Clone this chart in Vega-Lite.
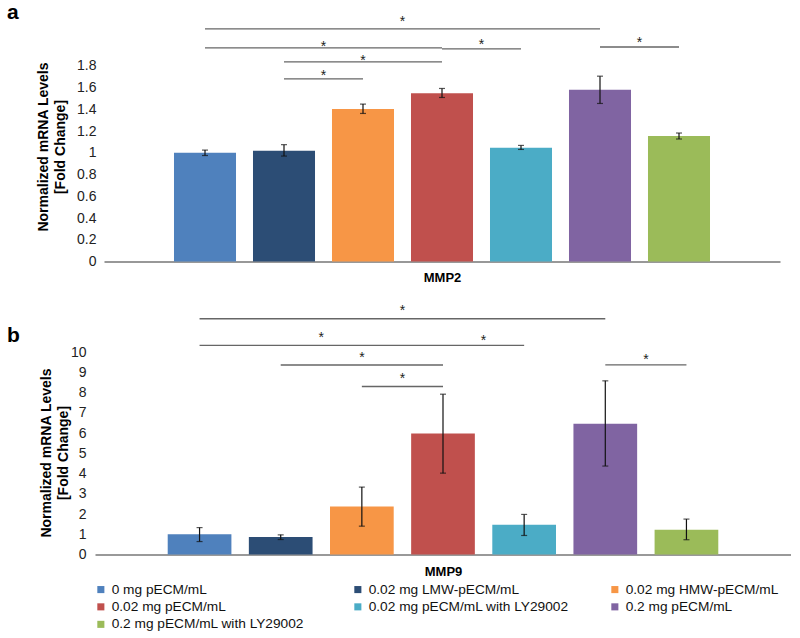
{
  "$schema": "https://vega.github.io/schema/vega-lite/v6.json",
  "padding": {"left": 7, "top": 1.5, "right": 0, "bottom": 0},
  "background": "white",
  "config": {
    "font": "Liberation Sans",
    "view": {"stroke": null},
    "axis": {"grid": false},
    "axisY": {"domain": false, "ticks": false, "labelOverlap": false, "labelFontSize": 14, "labelColor": "#222", "titleFontSize": 14, "titleFontWeight": "bold", "titleColor": "#000", "titleLineHeight": 17, "titleLimit": 500},
    "axisX": {"labels": false, "ticks": false, "domain": true, "titleFontSize": 13, "titleFontWeight": "bold", "titleColor": "#000"}
  },
  "datasets": {
    "bars2": [
      {"g": "0 mg pECM/mL", "v": 1.0, "lo": 0.975, "hi": 1.025},
      {"g": "0.02 mg LMW-pECM/mL", "v": 1.02, "lo": 0.97, "hi": 1.075},
      {"g": "0.02 mg HMW-pECM/mL", "v": 1.402, "lo": 1.362, "hi": 1.448},
      {"g": "0.02 mg pECM/mL", "v": 1.549, "lo": 1.509, "hi": 1.592},
      {"g": "0.02 mg pECM/mL with LY29002", "v": 1.047, "lo": 1.031, "hi": 1.068},
      {"g": "0.2 mg pECM/mL", "v": 1.579, "lo": 1.454, "hi": 1.705},
      {"g": "0.2 mg pECM/mL with LY29002", "v": 1.154, "lo": 1.127, "hi": 1.182}
    ],
    "bars9": [
      {"g": "0 mg pECM/mL", "v": 1.0, "lo": 0.64, "hi": 1.33},
      {"g": "0.02 mg LMW-pECM/mL", "v": 0.86, "lo": 0.74, "hi": 0.97},
      {"g": "0.02 mg HMW-pECM/mL", "v": 2.37, "lo": 1.4, "hi": 3.33},
      {"g": "0.02 mg pECM/mL", "v": 5.98, "lo": 4.02, "hi": 7.92},
      {"g": "0.02 mg pECM/mL with LY29002", "v": 1.47, "lo": 0.94, "hi": 1.98},
      {"g": "0.2 mg pECM/mL", "v": 6.46, "lo": 4.37, "hi": 8.58},
      {"g": "0.2 mg pECM/mL with LY29002", "v": 1.22, "lo": 0.73, "hi": 1.75}
    ],
    "sig2": [
      {"from": "0 mg pECM/mL", "to": "0.2 mg pECM/mL", "y": 2.14},
      {"from": "0 mg pECM/mL", "to": "0.02 mg pECM/mL", "y": 1.965},
      {"from": "0.02 mg pECM/mL", "to": "0.02 mg pECM/mL with LY29002", "y": 1.956},
      {"from": "0.02 mg LMW-pECM/mL", "to": "0.02 mg pECM/mL", "y": 1.837},
      {"from": "0.02 mg LMW-pECM/mL", "to": "0.02 mg HMW-pECM/mL", "y": 1.68},
      {"from": "0.2 mg pECM/mL", "to": "0.2 mg pECM/mL with LY29002", "y": 1.974}
    ],
    "stars2": [
      {"at": "0.02 mg HMW-pECM/mL", "pos": "between", "y": 2.167},
      {"at": "0.02 mg LMW-pECM/mL", "pos": "between", "y": 1.938},
      {"at": "0.02 mg pECM/mL", "pos": "between", "y": 1.956},
      {"at": "0.02 mg HMW-pECM/mL", "pos": "center", "y": 1.809},
      {"at": "0.02 mg LMW-pECM/mL", "pos": "between", "y": 1.671},
      {"at": "0.2 mg pECM/mL", "pos": "between", "y": 1.974}
    ],
    "sig9": [
      {"from": "0 mg pECM/mL", "to": "0.2 mg pECM/mL", "y": 11.65},
      {"from": "0 mg pECM/mL", "to": "0.02 mg pECM/mL", "y": 10.33},
      {"from": "0.02 mg pECM/mL", "to": "0.02 mg pECM/mL with LY29002", "y": 10.33},
      {"from": "0.02 mg LMW-pECM/mL", "to": "0.02 mg pECM/mL", "y": 9.36},
      {"from": "0.02 mg HMW-pECM/mL", "to": "0.02 mg pECM/mL", "y": 8.3},
      {"from": "0.2 mg pECM/mL", "to": "0.2 mg pECM/mL with LY29002", "y": 9.37}
    ],
    "stars9": [
      {"at": "0.02 mg HMW-pECM/mL", "pos": "between", "y": 11.84},
      {"at": "0.02 mg LMW-pECM/mL", "pos": "between", "y": 10.51},
      {"at": "0.02 mg pECM/mL", "pos": "between", "y": 10.36},
      {"at": "0.02 mg HMW-pECM/mL", "pos": "center", "y": 9.52},
      {"at": "0.02 mg HMW-pECM/mL", "pos": "between", "y": 8.49},
      {"at": "0.2 mg pECM/mL", "pos": "between", "y": 9.42}
    ]
  },
  "columns": 1,
  "concat": [
    {
      "title": {"text": "a", "anchor": "start", "frame": "group", "orient": "top", "fontSize": 21, "fontWeight": "bold", "color": "#000", "dx": -88, "offset": -11},
      "width": 685,
      "height": 250,
      "encoding": {
        "x": {"type": "nominal", "scale": {"domain": ["0 mg pECM/mL", "0.02 mg LMW-pECM/mL", "0.02 mg HMW-pECM/mL", "0.02 mg pECM/mL", "0.02 mg pECM/mL with LY29002", "0.2 mg pECM/mL", "0.2 mg pECM/mL with LY29002"], "range": [9, 685], "paddingInner": 0.215, "paddingOuter": 0.886},
          "axis": {"title": "MMP2", "domainColor": "#333", "domainWidth": 1.2, "titlePadding": 10}},
        "y": {"type": "quantitative", "scale": {"domain": [0, 2.3], "nice": false},
          "axis": {"title": ["Normalized mRNA Levels", "[Fold Change]"], "values": [0, 0.2, 0.4, 0.6, 0.8, 1, 1.2, 1.4, 1.6, 1.8], "format": "~g", "labelPadding": -1, "titlePadding": 9, "titleY": 135, "titleFontSize": 14, "titleLimit": 500}}
      },
      "layer": [
        {
          "data": {"name": "bars2"},
          "mark": {"type": "bar"},
          "encoding": {
            "x": {"field": "g", "type": "nominal", "sort": null},
            "y": {"field": "v", "type": "quantitative", "stack": null},
            "color": {"field": "g", "type": "nominal", "sort": null,
              "scale": {"domain": ["0 mg pECM/mL", "0.02 mg LMW-pECM/mL", "0.02 mg HMW-pECM/mL", "0.02 mg pECM/mL", "0.02 mg pECM/mL with LY29002", "0.2 mg pECM/mL", "0.2 mg pECM/mL with LY29002"], "range": ["#4F81BD", "#2C4D75", "#F79646", "#C0504D", "#4BACC6", "#8064A2", "#9BBB59"]},
              "legend": {"title": null, "orient": "none", "direction": "horizontal", "legendX": -1, "legendY": 571, "columns": 3, "gridAlign": "all", "columnPadding": 39, "rowPadding": 2.5, "symbolType": "square", "symbolSize": 50, "symbolStrokeWidth": 0, "labelFontSize": 13.7, "labelColor": "#111", "labelOffset": 4, "labelLimit": 300}}
          }
        },
        {
          "data": {"name": "bars2"},
          "mark": {"type": "rule", "color": "#111", "strokeWidth": 1.2},
          "encoding": {"x": {"field": "g"}, "y": {"field": "lo"}, "y2": {"field": "hi"}}
        },
        {
          "data": {"name": "bars2"},
          "mark": {"type": "tick", "color": "#111", "size": 6, "thickness": 1.2},
          "encoding": {"x": {"field": "g"}, "y": {"field": "lo"}}
        },
        {
          "data": {"name": "bars2"},
          "mark": {"type": "tick", "color": "#111", "size": 6, "thickness": 1.2},
          "encoding": {"x": {"field": "g"}, "y": {"field": "hi"}}
        },
        {
          "data": {"name": "sig2"},
          "mark": {"type": "rule", "color": "#666", "strokeWidth": 1.4},
          "encoding": {"x": {"field": "from", "bandPosition": 0.5}, "x2": {"field": "to", "bandPosition": 0.5}, "y": {"field": "y"}}
        },
        {
          "data": {"name": "stars2"},
          "transform": [{"filter": "datum.pos === 'center'"}],
          "mark": {"type": "text", "text": "*", "fontSize": 14, "color": "#222", "baseline": "alphabetic"},
          "encoding": {"x": {"field": "at", "bandPosition": 0.5}, "y": {"field": "y"}}
        },
        {
          "data": {"name": "stars2"},
          "transform": [{"filter": "datum.pos === 'between'"}],
          "mark": {"type": "text", "text": "*", "fontSize": 14, "color": "#222", "baseline": "alphabetic"},
          "encoding": {"x": {"field": "at", "bandPosition": 1.137}, "y": {"field": "y"}}
        }
      ]
    },
    {
      "title": {"text": "b", "anchor": "start", "frame": "group", "orient": "top", "fontSize": 21, "fontWeight": "bold", "color": "#000", "dx": -88, "offset": -44},
      "width": 696,
      "height": 253,
      "encoding": {
        "x": {"type": "nominal", "scale": {"domain": ["0 mg pECM/mL", "0.02 mg LMW-pECM/mL", "0.02 mg HMW-pECM/mL", "0.02 mg pECM/mL", "0.02 mg pECM/mL with LY29002", "0.2 mg pECM/mL", "0.2 mg pECM/mL with LY29002"], "paddingInner": 0.215, "paddingOuter": 0.896},
          "axis": {"title": "MMP9", "domainColor": "#777", "domainWidth": 1.4, "titlePadding": 11}},
        "y": {"type": "quantitative", "scale": {"domain": [0, 12.5], "nice": false},
          "axis": {"title": ["Normalized mRNA Levels", "[Fold Change]"], "values": [0, 1, 2, 3, 4, 5, 6, 7, 8, 9, 10], "format": "~g", "labelPadding": 9, "titlePadding": 0, "titleY": 151, "titleFontSize": 14, "titleLimit": 500}}
      },
      "layer": [
        {
          "data": {"name": "bars9"},
          "mark": {"type": "bar"},
          "encoding": {
            "x": {"field": "g", "type": "nominal", "sort": null},
            "y": {"field": "v", "type": "quantitative", "stack": null},
            "color": {"field": "g", "type": "nominal", "sort": null,
              "scale": {"domain": ["0 mg pECM/mL", "0.02 mg LMW-pECM/mL", "0.02 mg HMW-pECM/mL", "0.02 mg pECM/mL", "0.02 mg pECM/mL with LY29002", "0.2 mg pECM/mL", "0.2 mg pECM/mL with LY29002"], "range": ["#4F81BD", "#2C4D75", "#F79646", "#C0504D", "#4BACC6", "#8064A2", "#9BBB59"]}}
          }
        },
        {
          "data": {"name": "bars9"},
          "mark": {"type": "rule", "color": "#111", "strokeWidth": 1.2},
          "encoding": {"x": {"field": "g"}, "y": {"field": "lo"}, "y2": {"field": "hi"}}
        },
        {
          "data": {"name": "bars9"},
          "mark": {"type": "tick", "color": "#111", "size": 6, "thickness": 1.2},
          "encoding": {"x": {"field": "g"}, "y": {"field": "lo"}}
        },
        {
          "data": {"name": "bars9"},
          "mark": {"type": "tick", "color": "#111", "size": 6, "thickness": 1.2},
          "encoding": {"x": {"field": "g"}, "y": {"field": "hi"}}
        },
        {
          "data": {"name": "sig9"},
          "mark": {"type": "rule", "color": "#666", "strokeWidth": 1.4},
          "encoding": {"x": {"field": "from", "bandPosition": 0.5}, "x2": {"field": "to", "bandPosition": 0.5}, "y": {"field": "y"}}
        },
        {
          "data": {"name": "stars9"},
          "transform": [{"filter": "datum.pos === 'center'"}],
          "mark": {"type": "text", "text": "*", "fontSize": 14, "color": "#222", "baseline": "alphabetic"},
          "encoding": {"x": {"field": "at", "bandPosition": 0.5}, "y": {"field": "y"}}
        },
        {
          "data": {"name": "stars9"},
          "transform": [{"filter": "datum.pos === 'between'"}],
          "mark": {"type": "text", "text": "*", "fontSize": 14, "color": "#222", "baseline": "alphabetic"},
          "encoding": {"x": {"field": "at", "bandPosition": 1.137}, "y": {"field": "y"}}
        }
      ]
    }
  ],
  "align": "none",
  "spacing": 17,
  "resolve": {"scale": {"x": "independent", "y": "independent"}}
}
